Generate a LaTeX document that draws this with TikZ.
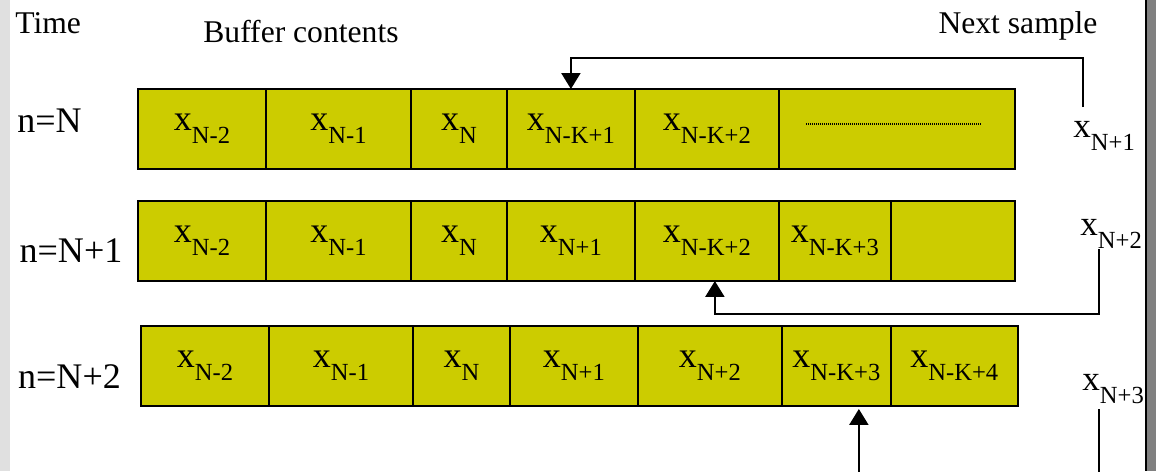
\documentclass[tikz,border=0pt]{standalone}
\usepackage{fontspec}
\setmainfont{Liberation Serif}
\usepackage{xcolor}
\usetikzlibrary{arrows.meta, positioning}
\definecolor{cellfill}{RGB}{204,204,0}
\definecolor{edgegray}{RGB}{224,224,224}
\definecolor{framegray}{RGB}{128,128,128}
\newcommand{\smp}[1]{x\raisebox{-7.5pt}{\fontsize{14}{14}\selectfont #1}}

\begin{document}
\begin{tikzpicture}[x=0.02cm, y=-0.02cm,
    cell/.style={draw, fill=cellfill, line width=1.2pt, minimum height=1.6cm,
        inner sep=0pt, outer sep=0pt, font=\fontsize{20.5}{22}\selectfont},
    feed/.style={line width=1.3pt, -{Triangle[length=0.32cm, width=0.38cm]}},
    lbl/.style={inner sep=0pt, font=\fontsize{18}{20}\selectfont},
    tlbl/.style={inner sep=0pt, font=\fontsize{20.5}{22}\selectfont},
    slbl/.style={inner sep=0pt, font=\fontsize{20}{22}\selectfont}]
    \useasboundingbox (0,0) rectangle (1156,471);
    \clip (0,0) rectangle (1156,471);

    % 背景边框
    \fill[white] (0,0) rectangle (1156,471);
    \fill[edgegray] (0,0) rectangle (10,471);
    \fill[black] (1145,0) rectangle (1147,471);
    \fill[framegray] (1147,0) rectangle (1156,471);

    % 标题
    \node[lbl, anchor=base west] (time) at (15,33) {Time};
    \node[lbl, anchor=base west] (buf) at (203,42) {Buffer contents};
    \node[lbl, anchor=base] (next) at (1018,33) {Next sample};

    % 第一行：n=N
    \node[tlbl, anchor=base] (t0) at (49.5,132) {n=N};
    \node[cell, anchor=north west, minimum width=2.56cm] (a1) at (138,89) {\smp{N-2}};
    \node[cell, right=0pt of a1, minimum width=2.9cm] (a2) {\smp{N-1}};
    \node[cell, right=0pt of a2, minimum width=1.92cm] (a3) {\smp{N}};
    \node[cell, right=0pt of a3, minimum width=2.56cm] (a4) {\smp{N-K+1}};
    \node[cell, right=0pt of a4, minimum width=2.88cm] (a5) {\smp{N-K+2}};
    \node[cell, right=0pt of a5, minimum width=4.72cm] (a6) {};
    \draw[line width=0.6pt, dash pattern=on 0.6pt off 0.54pt]
        ([xshift=-1.82cm, yshift=0.1cm]a6.center) -- ++(3.52cm,0);

    % 第二行：n=N+1
    \node[tlbl, anchor=base] (t1) at (71,262) {n=N+1};
    \node[cell, anchor=north west, minimum width=2.56cm] (b1) at (138,201) {\smp{N-2}};
    \node[cell, right=0pt of b1, minimum width=2.9cm] (b2) {\smp{N-1}};
    \node[cell, right=0pt of b2, minimum width=1.92cm] (b3) {\smp{N}};
    \node[cell, right=0pt of b3, minimum width=2.56cm] (b4) {\smp{N+1}};
    \node[cell, right=0pt of b4, minimum width=2.88cm] (b5) {\smp{N-K+2}};
    \node[cell, right=0pt of b5, minimum width=2.24cm] (b6) {\smp{N-K+3}};
    \node[cell, right=0pt of b6, minimum width=2.48cm] (b7) {};

    % 第三行：n=N+2
    \node[tlbl, anchor=base] (t2) at (69.5,388) {n=N+2};
    \node[cell, anchor=north west, minimum width=2.56cm] (c1) at (141,326) {\smp{N-2}};
    \node[cell, right=0pt of c1, minimum width=2.88cm] (c2) {\smp{N-1}};
    \node[cell, right=0pt of c2, minimum width=1.94cm] (c3) {\smp{N}};
    \node[cell, right=0pt of c3, minimum width=2.56cm] (c4) {\smp{N+1}};
    \node[cell, right=0pt of c4, minimum width=2.88cm] (c5) {\smp{N+2}};
    \node[cell, right=0pt of c5, minimum width=2.18cm] (c6) {\smp{N-K+3}};
    \node[cell, right=0pt of c6, minimum width=2.54cm] (c7) {\smp{N-K+4}};

    % 新样本
    \node[slbl, anchor=base west] (s1) at (1073,137) {\smp{N+1}};
    \node[slbl, anchor=base west] (s2) at (1080,235) {\smp{N+2}};
    \node[slbl, anchor=base west] (s3) at (1082,390) {\smp{N+3}};

    % 写入缓冲区（箭头）
    \coordinate (p1) at (1083,107);
    \coordinate (q1) at (1083,58);
    \coordinate (p2) at (1099,249);
    \coordinate (q2) at (1099,314);
    \coordinate (p3) at (1099,409);
    \coordinate (q3) at (1099,500);
    \draw[feed] (p1) -- (q1) -| (a4.north);
    \draw[feed] (p2) -- (q2) -| ([xshift=0.16cm]b5.south);
    \draw[feed] (p3) -- (q3) -| ([xshift=0.45cm, yshift=-0.06cm]c6.south);
\end{tikzpicture}
\end{document}
